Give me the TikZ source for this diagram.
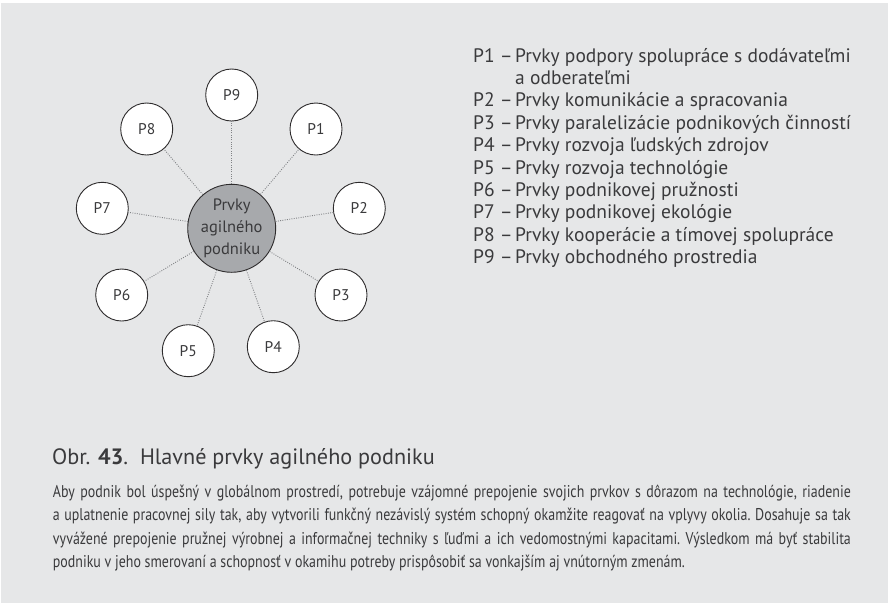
\documentclass[tikz,border=0pt]{standalone}
\usepackage{fontspec}
\setmainfont{PT Sans}
\newfontfamily\bodyfont[FakeStretch=0.82]{PT Sans}
\definecolor{panel}{HTML}{E6E7E8}
\definecolor{ink}{HTML}{3A3A3C}
\definecolor{hubfill}{HTML}{A7A9AC}
\definecolor{rim}{HTML}{2E2C2D}
\definecolor{dots}{HTML}{808285}
\tikzset{
  hub/.style={circle, draw=rim, line width=0.9pt, fill=hubfill, minimum size=88pt,
    inner sep=0pt, align=center, text=ink, font=\fontsize{16.5}{21.7}\selectfont},
  pnode/.style={circle, draw=rim, line width=0.9pt, fill=white, minimum size=52pt,
    inner sep=0pt, text=ink, font=\fontsize{15.5}{18}\selectfont},
  link/.style={draw=dots, line width=0.9pt, dash pattern=on 0.9pt off 1.4pt},
  legkey/.style={anchor=base west, inner sep=0pt, text=ink, font=\fontsize{19.5}{22}\selectfont},
  caption/.style={anchor=base west, inner sep=0pt, text=ink, font=\fontsize{22.2}{26}\selectfont},
  bodyline/.style={anchor=base west, inner sep=0pt, text=ink, font=\bodyfont\fontsize{17}{20}\selectfont\frenchspacing}
}
\begin{document}
\begin{tikzpicture}[x=1pt,y=-1pt]
\useasboundingbox (0,0) rectangle (888,603);
\fill[white] (0,0) rectangle (888,603);
\fill[panel] (1,3) rectangle (888,603);

% central element and its nine parts
\node[hub] (c) at (231.7,228.3) {Prvky\\agilného\\podniku};
\foreach \n/\x/\y in {1/316/129, 2/359.3/208.3, 3/341/295, 4/273.3/346.7,
                      5/188.3/350.7, 6/121.7/295, 7/102.3/208.3, 8/146.7/129, 9/231.7/95}
  \node[pnode] (p\n) at (\x,\y) {P\n};
\foreach \n in {1,...,9}
  \draw[link] (c) -- (p\n);

% legend
\node[legkey] (k1) at (473,62) {P1 –};
\node[legkey] (d1) at (515,62) {Prvky podpory spolupráce s dodávateľmi};
\node[legkey] (d1b) at (515,84.4) {a odberateľmi};
\foreach \n/\t in {2/Prvky komunikácie a spracovania,
                   3/Prvky paralelizácie podnikových činností,
                   4/Prvky rozvoja ľudských zdrojov,
                   5/Prvky rozvoja technológie,
                   6/Prvky podnikovej pružnosti,
                   7/Prvky podnikovej ekológie,
                   8/Prvky kooperácie a tímovej spolupráce,
                   9/Prvky obchodného prostredia} {
  \node[legkey] (k\n) at (473,62+22.4*\n) {P\n{} –};
  \node[legkey] (d\n) at (515,62+22.4*\n) {\t};
}

% caption and description
\node[caption] (cap) at (52,464) {Obr. \textbf{43}.\ \ Hlavné prvky agilného podniku};
\node[bodyline] (b1) at (52.7,497) {\makebox[798pt][s]{Aby podnik bol úspešný v~globálnom prostredí, potrebuje vzájomné prepojenie svojich prvkov s~dôrazom na technológie, riadenie}};
\node[bodyline] (b2) at (52.7,520.5) {\makebox[798pt][s]{a uplatnenie pracovnej sily tak, aby vytvorili funkčný nezávislý systém schopný okamžite reagovať na vplyvy okolia. Dosahuje sa tak}};
\node[bodyline] (b3) at (52.7,544) {\makebox[798pt][s]{vyvážené prepojenie pružnej výrobnej a~informačnej techniky s~ľuďmi a~ich vedomostnými kapacitami. Výsledkom má byť stabilita}};
\node[bodyline] (b4) at (52.7,567.5) {podniku v~jeho smerovaní a~schopnosť v~okamihu potreby prispôsobiť sa vonkajším aj vnútorným zmenám.};
\end{tikzpicture}
\end{document}
